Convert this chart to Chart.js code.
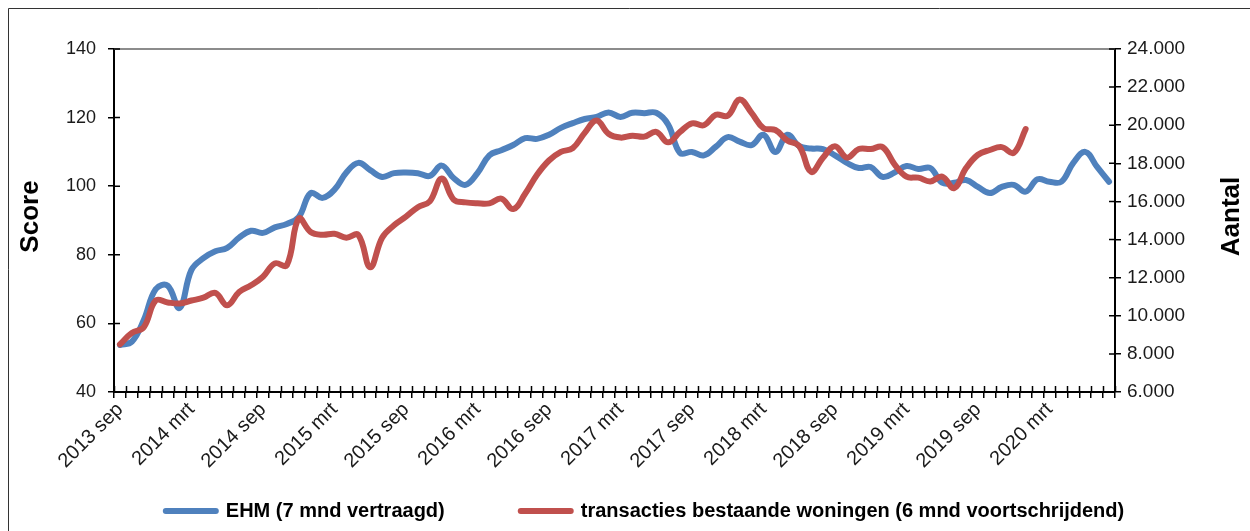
<!DOCTYPE html>
<html>
<head>
<meta charset="utf-8">
<script src="https://cdn.jsdelivr.net/npm/chart.js@4"></script>
<style>
  html, body { margin: 0; padding: 0; background: #fff; }
  #wrap { width: 1250px; height: 531px; position: relative; }
</style>
</head>
<body>
<div id="wrap"><canvas id="myChart"></canvas></div>
<script>
// maanden (sep 2013 t/m aug 2020)
const maanden = ['jan', 'feb', 'mrt', 'apr', 'mei', 'jun', 'jul', 'aug', 'sep', 'okt', 'nov', 'dec'];
const categories = [];
for (let i = 0; i < 84; i++) {
  categories.push((2013 + Math.floor((8 + i) / 12)) + ' ' + maanden[(8 + i) % 12]);
}

// EHM score (7 mnd vertraagd), linker as
const ehm = [
  53.7, 54.7, 61, 70, 71, 64.5, 75.6, 79, 81, 82, 85, 87,
  86.4, 88, 89, 91, 98, 96.6, 99, 104, 106.8, 104.7, 102.7, 103.8,
  104, 103.8, 103, 106, 102.4, 100.4, 103.8, 109, 110.5, 112, 114, 113.8,
  115, 117, 118.4, 119.6, 120.2, 121.5, 120.2, 121.4, 121.3, 121.4, 118, 109.7,
  110, 109, 111.5, 114.3, 113, 112, 115, 110, 115, 111.7, 111, 110.8,
  109, 106.8, 105.3, 105.6, 102.7, 104, 105.9, 105, 105.3, 101, 101, 101.8,
  99.8, 98, 99.8, 100.4, 98.4, 102, 101.3, 101.3, 106.8, 110, 105.6, 101.3
];

// transacties bestaande woningen (6 mnd voortschrijdend), rechter as
const transacties = [
  8500, 9100, 9400, 10800, 10700, 10650, 10800, 10950, 11200, 10550, 11250, 11600,
  12050, 12750, 12650, 15100, 14400, 14250, 14300, 14100, 14250, 12550, 14100, 14750,
  15200, 15700, 16000, 17200, 16100, 15950, 15900, 15900, 16150, 15600, 16400, 17400,
  18150, 18600, 18800, 19600, 20250, 19550, 19350, 19450, 19400, 19650, 19100, 19650,
  20100, 20000, 20550, 20500, 21350, 20650, 19850, 19750, 19200, 18900, 17550, 18300,
  18900, 18300, 18750, 18750, 18850, 17950, 17300, 17250, 17050, 17300, 16700, 17750,
  18450, 18700, 18850, 18550, 19800
];

const scoreTicks = [40, 60, 80, 100, 120, 140];
const aantalTicks = [6000, 8000, 10000, 12000, 14000, 16000, 18000, 20000, 22000, 24000];

const blauw = '#4F81BD';
const rood = '#C0504D';
const fontFam = '"Liberation Sans", Arial, sans-serif';

function duizendtal(v) {
  return String(v).replace(/\B(?=(\d{3})+(?!\d))/g, '.');
}

// kader, bovenrand, binnenste helft van de tickjes en astitels
const extras = {
  id: 'extras',
  beforeDraw(chart) {
    const c = chart.ctx;
    c.save();
    c.strokeStyle = '#333';
    c.lineWidth = 1;
    c.beginPath();
    c.moveTo(8.5, chart.height);
    c.lineTo(8.5, 8.5);
    c.lineTo(chart.width, 8.5);
    c.stroke();
    c.restore();
  },
  afterDraw(chart) {
    const c = chart.ctx;
    const a = chart.chartArea;
    const s = chart.scales;
    c.save();
    c.strokeStyle = '#8c8c8c';
    c.lineWidth = 2;
    c.beginPath();
    c.moveTo(a.left, a.top);
    c.lineTo(a.right, a.top);
    c.stroke();

    c.strokeStyle = '#000';
    c.lineWidth = 1.5;
    c.beginPath();
    for (let k = 0; k <= categories.length; k++) {
      const x = Math.round(s.x.getPixelForValue(k - 0.5)) + 0.5;
      c.moveTo(x, a.bottom);
      c.lineTo(x, a.bottom - 6);
    }
    s.y.ticks.forEach(t => {
      const y = s.y.getPixelForValue(t.value);
      c.moveTo(a.left, y);
      c.lineTo(a.left + 6, y);
    });
    s.y1.ticks.forEach(t => {
      const y = s.y1.getPixelForValue(t.value);
      c.moveTo(a.right, y);
      c.lineTo(a.right - 6, y);
    });
    c.stroke();

    c.fillStyle = '#000';
    c.font = 'bold 26px ' + fontFam;
    c.textAlign = 'center';
    c.textBaseline = 'middle';
    const midY = (a.top + a.bottom) / 2 - 4;
    c.save();
    c.translate(31, midY);
    c.rotate(-Math.PI / 2);
    c.fillText('Score', 0, 0);
    c.restore();
    c.save();
    c.translate(1232, midY);
    c.rotate(-Math.PI / 2);
    c.fillText('Aantal', 0, 0);
    c.restore();
    c.restore();
  }
};

const ctx = document.getElementById('myChart').getContext('2d');

const myChart = new Chart(ctx, {
  type: 'line',
  data: {
    labels: categories,
    datasets: [{
      label: 'EHM (7 mnd vertraagd)',
      data: ehm,
      yAxisID: 'y',
      borderColor: blauw,
      backgroundColor: blauw,
      borderWidth: 6,
      borderCapStyle: 'round',
      borderJoinStyle: 'round',
      tension: 0.4,
      pointRadius: 0,
      pointHoverRadius: 0,
      order: 2
    }, {
      label: 'transacties bestaande woningen (6 mnd voortschrijdend)',
      data: transacties,
      yAxisID: 'y1',
      borderColor: rood,
      backgroundColor: rood,
      borderWidth: 6,
      borderCapStyle: 'round',
      borderJoinStyle: 'round',
      tension: 0.4,
      pointRadius: 0,
      pointHoverRadius: 0,
      order: 1
    }]
  },
  options: {
    responsive: true,
    maintainAspectRatio: false,
    animation: false,
    layout: {
      padding: { left: 40, top: 49, right: 0, bottom: 0 }
    },
    plugins: {
      tooltip: { enabled: false },
      legend: {
        position: 'bottom',
        onClick: null,
        labels: {
          usePointStyle: true,
          pointStyle: 'line',
          pointStyleWidth: 50,
          padding: 8,
          color: '#000',
          font: { family: fontFam, size: 20, weight: 'bold' },
          generateLabels(chart) {
            const items = chart.data.datasets.map((ds, i) => ({
              text: ds.label,
              strokeStyle: ds.borderColor,
              fillStyle: ds.borderColor,
              lineWidth: 6,
              lineCap: 'round',
              pointStyle: 'line',
              hidden: false,
              datasetIndex: i,
              fontColor: '#000'
            }));
            // lege ruimte tussen de twee items
            items.splice(1, 0, {
              text: '',
              strokeStyle: 'rgba(0,0,0,0)',
              fillStyle: 'rgba(0,0,0,0)',
              lineWidth: 0,
              pointStyle: 'line',
              hidden: false,
              datasetIndex: 9
            });
            return items;
          }
        }
      }
    },
    scales: {
      x: {
        offset: true,
        grid: {
          offset: true,
          drawOnChartArea: false,
          color: '#000',
          tickLength: 6,
          lineWidth: 1.5
        },
        border: { color: '#000', width: 2 },
        ticks: {
          autoSkip: false,
          maxRotation: 45,
          minRotation: 45,
          padding: 0,
          color: '#1a1a1a',
          font: { family: fontFam, size: 20 },
          callback: function (val, index) {
            return index % 6 === 0 ? this.getLabelForValue(val) : '';
          }
        },
        afterFit(scale) { scale.height = 101; }
      },
      y: {
        position: 'left',
        min: 40,
        max: 140,
        grid: { drawOnChartArea: false, color: '#000', tickLength: 6, lineWidth: 1.5 },
        border: { color: '#000', width: 2 },
        ticks: {
          padding: 12,
          color: '#1a1a1a',
          font: { family: fontFam, size: 18 }
        },
        afterBuildTicks(scale) { scale.ticks = scoreTicks.map(v => ({ value: v })); },
        afterFit(scale) { scale.width = 74; }
      },
      y1: {
        position: 'right',
        min: 6000,
        max: 24000,
        grid: { drawOnChartArea: false, color: '#000', tickLength: 6, lineWidth: 1.5 },
        border: { color: '#000', width: 2 },
        ticks: {
          padding: 6,
          color: '#1a1a1a',
          font: { family: fontFam, size: 19 },
          callback: v => duizendtal(v)
        },
        afterBuildTicks(scale) { scale.ticks = aantalTicks.map(v => ({ value: v })); },
        afterFit(scale) { scale.width = 135; }
      }
    }
  },
  plugins: [extras]
});
</script>
</body>
</html>
